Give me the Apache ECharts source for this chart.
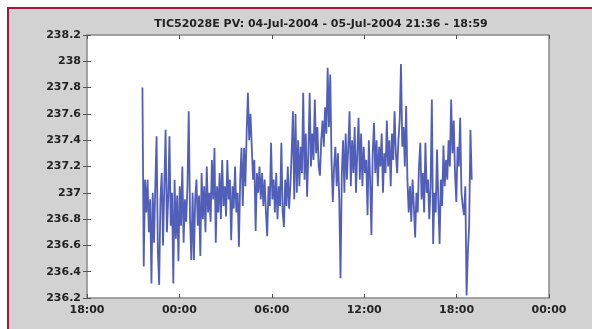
<!DOCTYPE html>
<html>
<head>
<meta charset="utf-8">
<script src="https://cdn.jsdelivr.net/npm/echarts@6/dist/echarts.min.js"></script>
<style>
html,body{margin:0;padding:0;background:#fff;}
#chart{width:592px;height:329px;}
</style>
</head>
<body>
<div id="chart"></div>
<script>
// Chart title and tick labels
var titleText = 'TIC52028E PV: 04-Jul-2004 - 05-Jul-2004 21:36 - 18:59';
var xTickLabels = ['18:00', '00:00', '06:00', '12:00', '18:00', '00:00'];
// x axis in hours after 04-Jul 18:00
var xMinHours = 0, xMaxHours = 30, xStepHours = 6;
var yMin = 236.2, yMax = 238.2, yStep = 0.2;
// sampling: start 21:36 (3.6 h), end 18:59 next day (24.983 h)
var startHours = 3.6, endHours = 24.983;
// PV values
var pvValues = [
237.80, 236.44, 237.10, 236.85, 237.10, 236.70, 236.95, 236.31, 237.00, 236.62,
237.05, 237.43, 236.55, 236.30, 236.95, 237.15, 236.60, 237.05, 237.48, 236.70,
236.95, 237.43, 236.75, 237.00, 236.31, 237.10, 236.65, 236.98, 236.48, 237.05,
236.75, 237.20, 236.62, 236.95, 236.78, 237.05, 237.62, 236.80, 236.49, 237.00,
236.49, 236.95, 237.10, 236.75, 236.98, 236.52, 237.15, 236.80, 237.05, 236.70,
237.20, 236.85, 237.00, 236.78, 237.25, 236.95, 237.34, 236.62, 237.05, 236.85,
237.15, 236.80, 237.25, 236.90, 237.05, 236.82, 237.25, 236.95, 237.10, 236.64,
237.05, 236.88, 237.20, 236.85, 237.00, 236.59, 237.10, 237.34, 236.90, 237.34,
237.05, 237.45, 237.76, 237.40, 237.60, 237.35, 237.10, 237.25, 236.71, 237.15,
237.00, 237.20, 236.95, 237.15, 236.90, 237.10, 236.85, 236.67, 237.05, 236.90,
237.38, 236.95, 237.10, 236.85, 237.15, 236.80, 237.05, 236.90, 237.38, 236.85,
236.74, 237.10, 236.90, 237.20, 236.88, 237.05, 237.30, 237.62, 236.95, 237.60,
237.00, 237.40, 237.05, 237.35, 237.15, 237.76, 237.10, 237.45, 236.97, 237.30,
237.76, 237.20, 237.45, 237.25, 237.71, 237.30, 237.50, 237.20, 237.13, 237.40,
237.55, 237.35, 237.65, 237.45, 237.95, 237.50, 237.90, 237.25, 236.93, 237.20,
237.35, 237.05, 237.30, 236.95, 236.35, 237.15, 237.40, 237.00, 237.45, 237.10,
237.35, 237.62, 237.05, 237.40, 237.15, 237.50, 237.00, 237.30, 237.57, 237.10,
237.45, 237.05, 237.35, 237.15, 237.25, 236.83, 237.40, 237.10, 236.68, 237.30,
237.53, 237.15, 237.40, 237.05, 237.35, 237.20, 237.45, 237.00, 237.30, 237.15,
237.55, 237.20, 237.40, 237.05, 237.45, 237.25, 237.62, 237.30, 237.15, 237.40,
237.55, 237.98, 237.35, 237.50, 237.20, 237.66, 237.10, 236.85, 237.05, 236.78,
237.10, 236.90, 236.66, 237.00, 236.85, 237.20, 237.38, 236.95, 237.15, 236.85,
237.38, 237.00, 237.10, 236.80, 237.05, 237.71, 236.61, 237.00, 236.85, 237.33,
236.95, 236.61, 237.10, 236.90, 237.36, 237.05, 237.25, 237.10, 237.40, 237.20,
237.71, 237.30, 237.55, 237.15, 236.93, 237.35, 237.20, 237.57, 237.00, 236.90,
236.83, 237.05, 236.22, 236.55, 236.75, 237.48, 237.10
];

var seriesData = pvValues.map(function (v, i) {
  var t = startHours + (endHours - startHours) * i / (pvValues.length - 1);
  return [t, v];
});

var labelFont = {color: '#222', fontFamily: 'DejaVu Sans', fontWeight: 'bold', fontSize: 11};
var chart = echarts.init(document.getElementById('chart'), null, {renderer: 'canvas'});
chart.setOption({
  animation: false,
  backgroundColor: '#ffffff',
  graphic: {elements: [
    {type: 'rect', z: -10, shape: {x: 8, y: 7, width: 584, height: 322}, style: {fill: '#d2d2d2'}},
    {type: 'line', z: -9, shape: {x1: 7, y1: 8, x2: 592, y2: 8}, style: {stroke: '#b0123e', lineWidth: 2}},
    {type: 'line', z: -9, shape: {x1: 8, y1: 7, x2: 8, y2: 329}, style: {stroke: '#b0123e', lineWidth: 2}}
  ]},
  title: {
    text: titleText, left: 316, top: 14, textAlign: 'center',
    textStyle: {color: '#222', fontFamily: 'DejaVu Sans', fontWeight: 'bold', fontSize: 11}
  },
  grid: {left: 87, right: 43, top: 35, bottom: 31, show: true, backgroundColor: '#ffffff', borderColor: '#8a8a8a', borderWidth: 1.5},
  xAxis: [{
    type: 'value', min: xMinHours, max: xMaxHours, interval: xStepHours,
    axisLine: {show: false}, splitLine: {show: false},
    axisTick: {inside: true, length: 4, lineStyle: {color: '#555', width: 1}},
    axisLabel: Object.assign({margin: 7, formatter: function (v) { return xTickLabels[Math.round(v / xStepHours)]; }}, labelFont)
  }, {
    type: 'value', position: 'top', min: xMinHours, max: xMaxHours, interval: xStepHours,
    axisLine: {show: false}, splitLine: {show: false}, axisLabel: {show: false},
    axisTick: {inside: true, length: 4, lineStyle: {color: '#555', width: 1}}
  }],
  yAxis: [{
    type: 'value', min: yMin, max: yMax, interval: yStep,
    axisLine: {show: false}, splitLine: {show: false},
    axisTick: {inside: true, length: 4, lineStyle: {color: '#555', width: 1}},
    axisLabel: Object.assign({margin: 6, formatter: function (v) { return String(parseFloat(v.toFixed(1))); }}, labelFont)
  }, {
    type: 'value', position: 'right', min: yMin, max: yMax, interval: yStep,
    axisLine: {show: false}, splitLine: {show: false}, axisLabel: {show: false},
    axisTick: {inside: true, length: 4, lineStyle: {color: '#555', width: 1}}
  }],
  series: [{
    type: 'line', xAxisIndex: 0, yAxisIndex: 0, data: seriesData,
    showSymbol: false, symbol: 'none',
    lineStyle: {color: '#3343ab', width: 1.8, opacity: 0.85}
  }]
});
</script>
</body>
</html>
